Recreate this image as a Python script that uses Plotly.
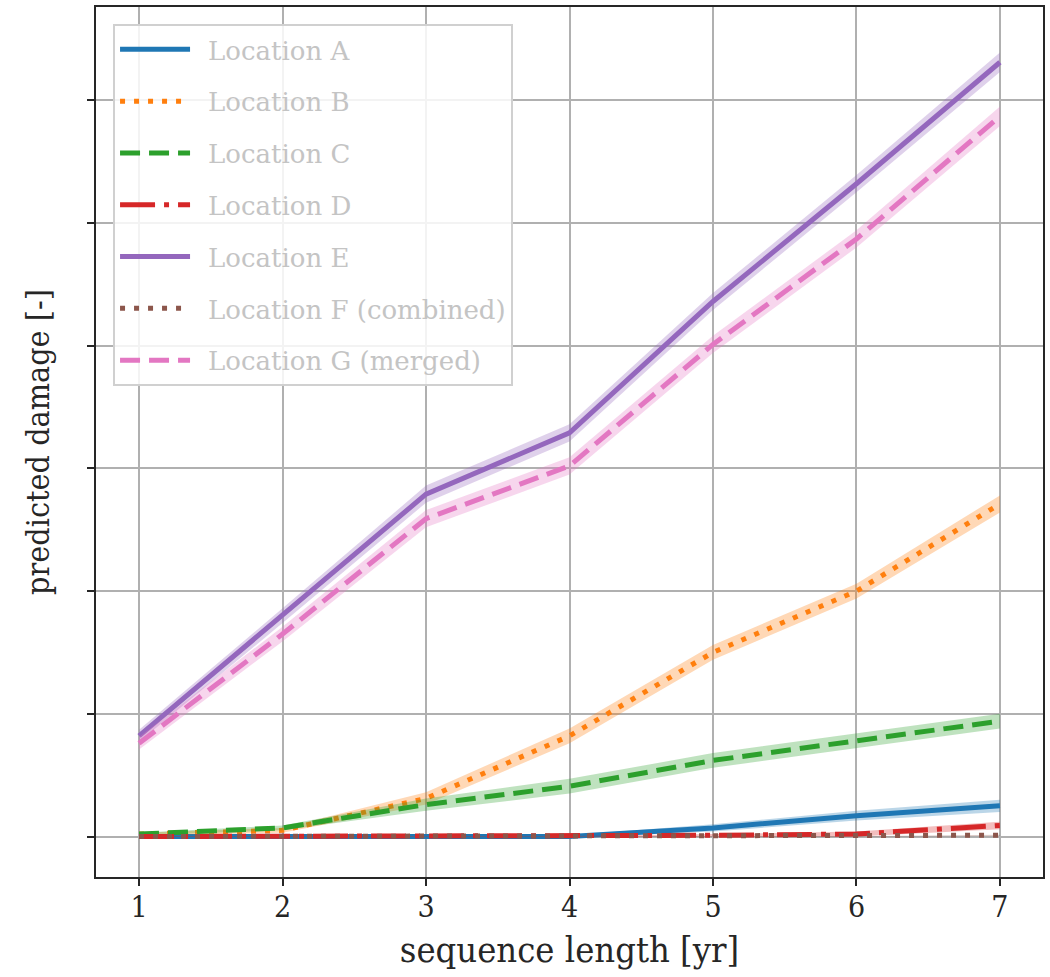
import plotly.graph_objects as go

# ---- data (y axis has no tick labels, units = grid steps) ----
seq_len = [1, 2, 3, 4, 5, 6, 7]

series_names = ["\u2002Location A", "\u2002Location B", "\u2002Location C", "\u2002Location D",
                "\u2002Location E", "\u2002Location F (combined)", "\u2002Location G (merged)"]

blue_vals   = [0.00, 0.00, 0.00, 0.00, 0.07, 0.17, 0.25]
orange_vals = [0.02, 0.05, 0.31, 0.82, 1.50, 2.00, 2.71]
green_vals  = [0.02, 0.07, 0.26, 0.41, 0.62, 0.78, 0.94]
red_vals    = [0.00, 0.00, 0.00, 0.00, 0.01, 0.02, 0.09]
purple_vals = [0.82, 1.80, 2.79, 3.29, 4.36, 5.32, 6.31]
brown_vals  = [0.00, 0.00, 0.00, 0.00, 0.00, 0.00, 0.01]
pink_vals   = [0.76, 1.65, 2.59, 3.02, 4.01, 4.87, 5.87]

# half-width of the shaded uncertainty band
blue_band   = [0.005, 0.005, 0.005, 0.01, 0.03, 0.04, 0.05]
orange_band = [0.01, 0.02, 0.05, 0.06, 0.06, 0.06, 0.07]
green_band  = [0.01, 0.02, 0.05, 0.06, 0.06, 0.06, 0.06]
red_band    = [0.005, 0.005, 0.005, 0.005, 0.01, 0.02, 0.03]
purple_band = [0.05, 0.06, 0.07, 0.07, 0.07, 0.07, 0.08]
brown_band  = [0.002, 0.002, 0.002, 0.002, 0.002, 0.003, 0.005]
pink_band   = [0.05, 0.06, 0.07, 0.07, 0.07, 0.07, 0.08]

y_ticks = [0, 1, 2, 3, 4, 5, 6]
x_ticks = [1, 2, 3, 4, 5, 6, 7]

colors = ["#1f77b4", "#ff7f0e", "#2ca02c", "#d62728", "#9467bd", "#8c564b", "#e377c2"]
band_rgba = ["rgba(31,119,180,0.3)", "rgba(255,127,14,0.3)", "rgba(44,160,44,0.3)",
             "rgba(214,39,40,0.3)", "rgba(148,103,189,0.3)", "rgba(140,86,75,0.3)",
             "rgba(227,119,194,0.3)"]
dashes = ["solid", "5px,9px", "20px,9px", "35px,9px,5px,9px", "solid", "5px,9px", "20px,9px"]

all_vals = [blue_vals, orange_vals, green_vals, red_vals, purple_vals, brown_vals, pink_vals]
all_bands = [blue_band, orange_band, green_band, red_band, purple_band, brown_band, pink_band]

fig = go.Figure()
for i, (name, vals, band) in enumerate(zip(series_names, all_vals, all_bands)):
    upper = [v + b for v, b in zip(vals, band)]
    lower = [v - b for v, b in zip(vals, band)]
    fig.add_trace(go.Scatter(
        x=seq_len + seq_len[::-1], y=upper + lower[::-1],
        fill="toself", fillcolor=band_rgba[i], line=dict(width=0),
        mode="lines", showlegend=False, hoverinfo="skip", legendgroup=f"g{i}"))
    fig.add_trace(go.Scatter(
        x=seq_len, y=vals, mode="lines", name=name, legendgroup=f"g{i}",
        line=dict(color=colors[i], width=5, dash=dashes[i])))

axis_common = dict(
    showline=True, linecolor="#262626", linewidth=2, mirror=True,
    ticks="outside", ticklen=7, tickwidth=2, tickcolor="#262626",
    showgrid=True, gridcolor="#b0b0b0", gridwidth=2, zeroline=False,
)

serif = "DejaVu Serif Condensed, DejaVu Serif"

fig.update_layout(
    width=1050, height=977,
    margin=dict(l=96, r=5, t=5, b=100),
    paper_bgcolor="white", plot_bgcolor="white",
    font=dict(family=serif, size=30, color="#262626"),
    xaxis=dict(axis_common, range=[0.7, 7.3], tickvals=x_ticks,
               ticklabelstandoff=-5,
               title=dict(text="sequence length [yr]", standoff=14)),
    yaxis=dict(axis_common, range=[-0.33, 6.76], tickvals=y_ticks,
               showticklabels=False,
               title=dict(text="predicted damage [-]", standoff=28,
                          font=dict(family=serif, size=32, color="#262626"))),
    legend=dict(x=0.018, y=0.9805, xanchor="left", yanchor="top",
                bgcolor="rgba(255,255,255,0.85)", bordercolor="#d0d0d0", borderwidth=2,
                font=dict(family="DejaVu Serif", size=26, color="#c4c4c4"),
                traceorder="grouped", tracegroupgap=15, itemwidth=70),
)

fig.write_html("out.html")
